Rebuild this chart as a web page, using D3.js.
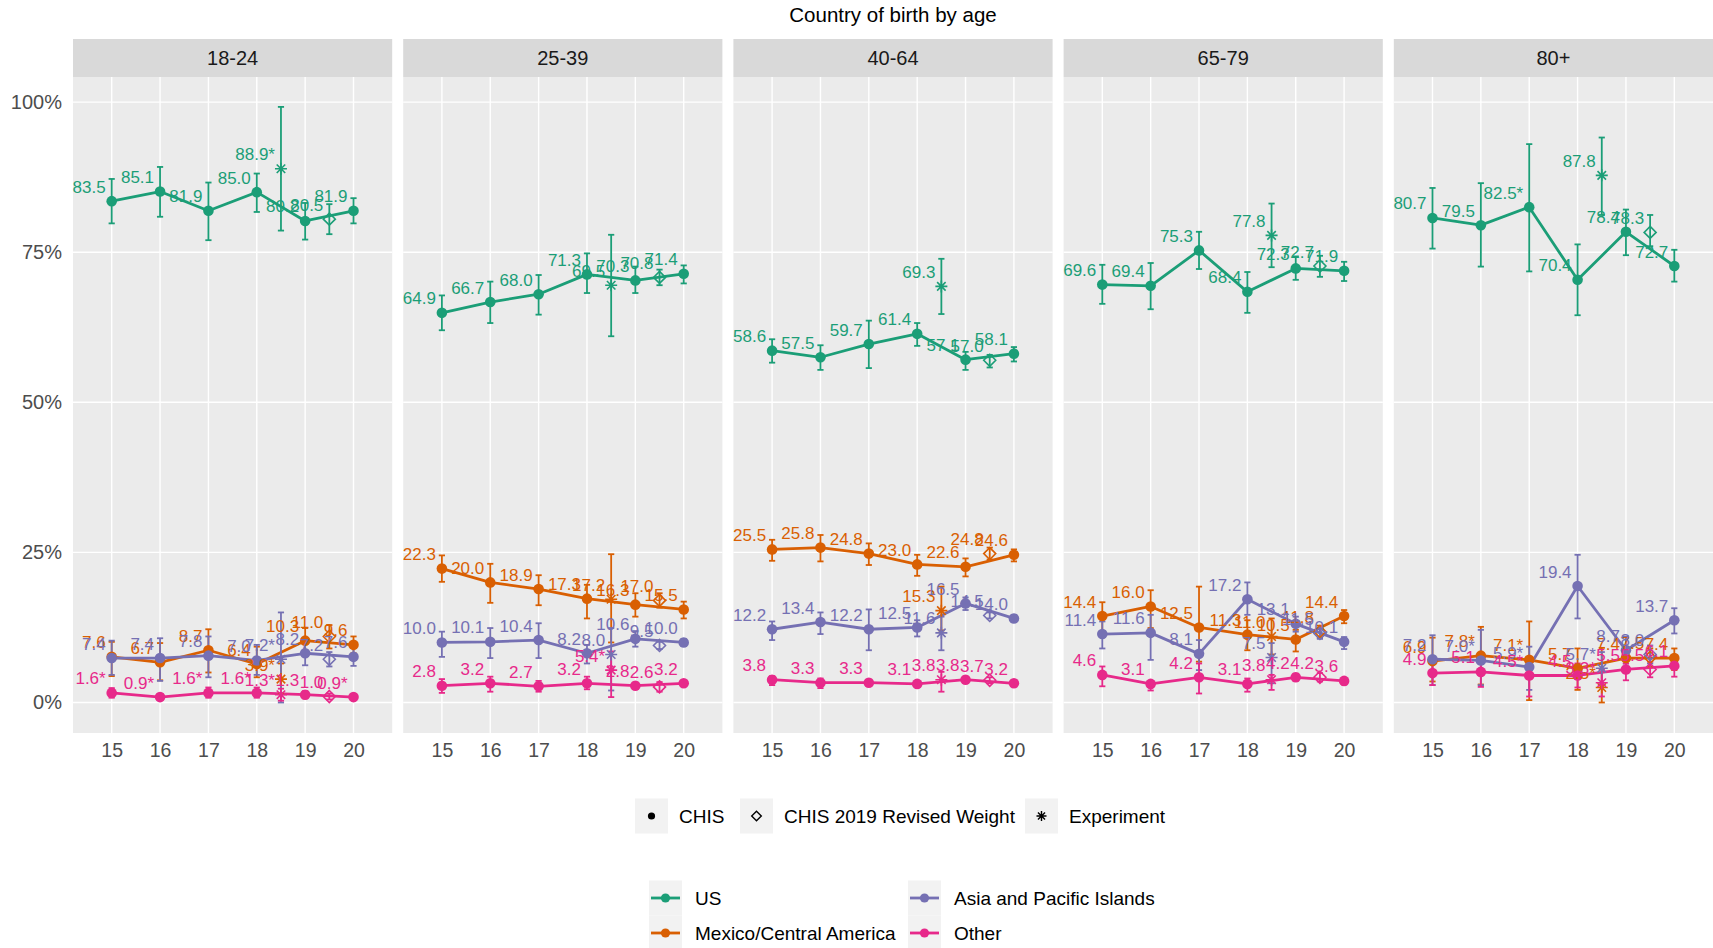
<!DOCTYPE html>
<html><head><meta charset="utf-8">
<script src="https://cdn.jsdelivr.net/npm/d3@7"></script>
<style>
body{margin:0;background:#fff;}
text{font-family:"Liberation Sans", Arial, Helvetica, sans-serif;}
</style>
</head><body>
<svg id="c" width="1713" height="948"></svg>
<script>
// ---------------- DATA ----------------
const title = "Country of birth by age";
const ages = ["18-24", "25-39", "40-64", "65-79", "80+"];
const regions = ["US", "Mexico/Central America", "Asia and Pacific Islands", "Other"];
const regionKeys = ["US", "Mexico", "Asia", "Other"];
const years = [15, 16, 17, 18, 19, 20];
const expYear = 18.5;   // Experiment
const revYear = 19.5;   // CHIS 2019 Revised Weight
const yTicks = [0, 25, 50, 75, 100];
const shapeLabels = ["CHIS", "CHIS 2019 Revised Weight", "Experiment"];

// rows = age groups, columns = years 15..20
const usChis = [
  [83.5, 85.1, 81.9, 85.0, 80.2, 81.9],
  [64.9, 66.7, 68.0, 71.3, 70.3, 71.4],
  [58.6, 57.5, 59.7, 61.4, 57.1, 58.1],
  [69.6, 69.4, 75.3, 68.4, 72.3, 71.9],
  [80.7, 79.5, 82.5, 70.4, 78.4, 72.7]
];
const usLo = [
  [79.8, 80.9, 77.0, 81.7, 77.1, 79.8],
  [62.0, 63.2, 64.6, 68.2, 68.2, 69.8],
  [56.6, 55.4, 55.7, 59.4, 55.4, 56.8],
  [66.4, 65.5, 72.2, 64.9, 70.4, 70.2],
  [75.6, 72.6, 71.8, 64.5, 74.5, 70.1]
];
const usHi = [
  [87.2, 89.2, 86.6, 88.1, 83.2, 84.0],
  [67.8, 70.1, 71.2, 74.8, 72.6, 72.8],
  [60.5, 59.5, 63.6, 63.2, 58.4, 59.2],
  [72.9, 73.2, 78.4, 71.7, 74.3, 73.4],
  [85.7, 86.5, 93.0, 76.3, 82.1, 75.4]
];
const usExp = [88.9, 69.5, 69.3, 77.8, 87.8];
const usExpLo = [78.6, 61.0, 64.7, 72.5, 81.2];
const usExpHi = [99.2, 77.9, 73.9, 83.1, 94.1];
const usRev = [80.5, 70.8, 57.0, 72.7, 78.3];
const usRevLo = [78.0, 69.5, 55.8, 70.9, 76.0];
const usRevHi = [83.0, 72.1, 57.9, 74.4, 81.2];

const mxChis = [
  [7.6, 6.7, 8.7, 6.4, 10.3, 9.6],
  [22.3, 20.0, 18.9, 17.3, 16.3, 15.5],
  [25.5, 25.8, 24.8, 23.0, 22.6, 24.6],
  [14.4, 16.0, 12.5, 11.3, 10.5, 14.4],
  [6.9, 7.8, 7.1, 5.7, 7.4, 7.4]
];
const mxLo = [
  [4.4, 3.7, 5.0, 4.2, 8.2, 8.2],
  [20.1, 16.6, 16.2, 14.0, 14.3, 14.0],
  [23.6, 23.5, 22.9, 21.1, 21.0, 23.5],
  [11.8, 12.4, 6.8, 8.7, 8.5, 13.2],
  [3.5, 3.0, 0.4, 2.1, 5.5, 5.4]
];
const mxHi = [
  [10.1, 9.9, 12.2, 9.3, 12.4, 11.0],
  [24.5, 23.1, 21.2, 19.6, 18.2, 16.8],
  [27.1, 27.9, 26.5, 24.6, 24.0, 25.5],
  [16.7, 18.7, 19.3, 13.7, 12.1, 15.4],
  [10.8, 12.6, 13.5, 9.0, 9.3, 9.0]
];
const mxExp = [3.9, 17.2, 15.3, 11.0, 2.5];
const mxExpLo = [1.5, 10.0, 12.0, 8.0, 0.0];
const mxExpHi = [6.5, 24.7, 19.3, 14.0, 9.1];
const mxRev = [11.0, 17.0, 24.8, 11.8, 7.5];
const mxRevLo = [9.0, 15.8, 23.8, 10.8, 6.0];
const mxRevHi = [12.9, 18.2, 25.8, 12.8, 9.0];

const asChis = [
  [7.4, 7.4, 7.8, 7.0, 8.2, 7.6],
  [10.0, 10.1, 10.4, 8.2, 10.6, 10.0],
  [12.2, 13.4, 12.2, 12.5, 16.5, 14.0],
  [11.4, 11.6, 8.1, 17.2, 13.1, 10.1],
  [7.2, 7.0, 5.9, 19.4, 8.7, 13.7]
];
const asLo = [
  [4.6, 3.6, 4.2, 4.6, 6.2, 6.1],
  [7.6, 7.4, 7.4, 6.5, 9.3, 9.4],
  [10.4, 11.4, 8.7, 11.0, 15.4, 13.4],
  [9.0, 7.1, 5.4, 14.6, 11.8, 8.9],
  [2.9, 2.9, 2.1, 14.0, 6.5, 11.5]
];
const asHi = [
  [10.3, 10.7, 11.0, 9.6, 10.3, 9.1],
  [11.8, 12.4, 13.2, 9.6, 11.9, 10.6],
  [13.5, 15.0, 15.5, 13.7, 17.5, 14.6],
  [13.5, 14.6, 10.4, 20.0, 14.3, 10.9],
  [11.2, 12.1, 9.3, 24.6, 11.0, 15.7]
];
const asExp = [7.2, 8.0, 11.6, 7.5, 5.7];
const asExpLo = [0.0, 2.0, 8.7, 3.2, 3.0];
const asExpHi = [15.0, 12.4, 14.3, 9.9, 8.4];
const asRev = [7.2, 9.5, 14.5, 11.5, 8.0];
const asRevLo = [6.0, 8.9, 14.0, 10.6, 6.5];
const asRevHi = [8.4, 10.1, 15.0, 12.4, 9.5];

const otChis = [
  [1.6, 0.9, 1.6, 1.6, 1.3, 0.9],
  [2.8, 3.2, 2.7, 3.2, 2.8, 3.2],
  [3.8, 3.3, 3.3, 3.1, 3.8, 3.2],
  [4.6, 3.1, 4.2, 3.1, 4.2, 3.6],
  [4.9, 5.1, 4.5, 4.5, 5.5, 6.1]
];
const otLo = [
  [0.8, 0.4, 0.8, 0.8, 0.7, 0.5],
  [1.6, 1.8, 1.8, 2.2, 2.3, 2.8],
  [2.9, 2.4, 2.8, 2.6, 3.3, 2.7],
  [2.7, 2.0, 1.5, 1.8, 3.6, 3.0],
  [2.9, 2.6, 1.0, 2.5, 3.7, 4.3]
];
const otHi = [
  [2.4, 1.4, 2.5, 2.5, 1.9, 1.3],
  [3.9, 4.3, 3.6, 4.3, 3.3, 3.6],
  [4.4, 4.0, 3.8, 3.5, 4.3, 3.6],
  [6.0, 3.5, 6.5, 4.0, 4.8, 4.1],
  [7.1, 7.6, 6.8, 6.5, 6.5, 6.8]
];
const otExp = [1.3, 5.4, 3.8, 3.8, 3.3];
const otExpLo = [0.3, 0.9, 1.8, 2.1, 1.0];
const otExpHi = [2.3, 8.5, 5.1, 4.6, 5.5];
const otRev = [1.0, 2.6, 3.7, 4.2, 5.5];
const otRevLo = [0.5, 1.8, 3.2, 3.5, 4.2];
const otRevHi = [1.5, 3.4, 4.2, 4.9, 6.8];

// estimates flagged with "*" (age|region|year)
const unstable = [
  "18-24|US|18.5", "18-24|Mexico|18.5", "18-24|Asia|18.5",
  "18-24|Other|15", "18-24|Other|16", "18-24|Other|17", "18-24|Other|18",
  "18-24|Other|18.5", "18-24|Other|20",
  "25-39|Other|18.5",
  "80+|US|17", "80+|Mexico|16", "80+|Mexico|17", "80+|Mexico|18.5",
  "80+|Asia|16", "80+|Asia|17", "80+|Asia|18.5",
  "80+|Other|17", "80+|Other|18.5"
];

const colors = ["#1B9E77", "#D95F02", "#7570B3", "#E7298A"];

// ---------------- BUILD RECORDS ----------------
const series = [
  {chis: usChis, lo: usLo, hi: usHi, e: usExp, eLo: usExpLo, eHi: usExpHi, r: usRev, rLo: usRevLo, rHi: usRevHi},
  {chis: mxChis, lo: mxLo, hi: mxHi, e: mxExp, eLo: mxExpLo, eHi: mxExpHi, r: mxRev, rLo: mxRevLo, rHi: mxRevHi},
  {chis: asChis, lo: asLo, hi: asHi, e: asExp, eLo: asExpLo, eHi: asExpHi, r: asRev, rLo: asRevLo, rHi: asRevHi},
  {chis: otChis, lo: otLo, hi: otHi, e: otExp, eLo: otExpLo, eHi: otExpHi, r: otRev, rLo: otRevLo, rHi: otRevHi}
];

function records(ai) {
  const out = [];
  series.forEach((s, ri) => {
    years.forEach((yr, yi) => out.push({ri, type: "CHIS", x: yr, v: s.chis[ai][yi], lo: s.lo[ai][yi], hi: s.hi[ai][yi]}));
    out.push({ri, type: "Exp", x: expYear, v: s.e[ai], lo: s.eLo[ai], hi: s.eHi[ai]});
    out.push({ri, type: "Rev", x: revYear, v: s.r[ai], lo: s.rLo[ai], hi: s.rHi[ai]});
  });
  out.forEach(d => {
    d.star = unstable.includes(ages[ai] + "|" + regionKeys[d.ri] + "|" + d.x);
    d.label = d.v.toFixed(1) + (d.star ? "*" : "");
  });
  return out;
}

// ---------------- DRAW ----------------
const W = 1713, H = 948;
const FONT = '"Liberation Sans", Arial, sans-serif';
const svg = d3.select("#c");
svg.append("rect").attr("width", W).attr("height", H).attr("fill", "#fff");

const plotTop = 77, plotBottom = 733, stripTop = 39;
const panelX = d3.scaleBand().domain(ages).range([73, 1713]).paddingInner(11 / 330.2);
const bw = panelX.bandwidth();
const y = d3.scaleLinear().domain([-5.08, 104.18]).range([plotBottom, plotTop]);
const x = d3.scaleLinear().domain([14.2, 20.8]).range([0, bw]);

svg.append("text").attr("x", (73 + 1713) / 2).attr("y", 22).attr("text-anchor", "middle")
  .attr("font-size", 20.5).attr("fill", "#000").text(title);

function asteriskPath(r) {
  const d = r * 0.7071;
  return `M${-r},0L${r},0M0,${-r}L0,${r}M${-d},${-d}L${d},${d}M${-d},${d}L${d},${-d}`;
}
function diamondPath(r) {
  return `M0,${-r}L${r},0L0,${r}L${-r},0Z`;
}

ages.forEach((age, ai) => {
  const g = svg.append("g").attr("transform", `translate(${panelX(age)},0)`);
  const data = records(ai);

  g.append("rect").attr("x", 0).attr("y", plotTop).attr("width", bw).attr("height", plotBottom - plotTop).attr("fill", "#EBEBEB");
  g.selectAll("line.gy").data(yTicks).join("line").attr("class", "gy")
    .attr("x1", 0).attr("x2", bw).attr("y1", d => y(d)).attr("y2", d => y(d))
    .attr("stroke", "#fff").attr("stroke-width", 1.4);
  g.selectAll("line.gx").data(years).join("line").attr("class", "gx")
    .attr("x1", d => x(d)).attr("x2", d => x(d)).attr("y1", plotTop).attr("y2", plotBottom)
    .attr("stroke", "#fff").attr("stroke-width", 1.4);

  // strip
  g.append("rect").attr("x", 0).attr("y", stripTop).attr("width", bw).attr("height", plotTop - stripTop).attr("fill", "#D9D9D9");
  g.append("text").attr("x", bw / 2).attr("y", (stripTop + plotTop) / 2).attr("dy", "0.36em")
    .attr("text-anchor", "middle").attr("font-size", 20).attr("fill", "#1A1A1A").text(age);

  // x axis
  const xa = g.append("g").attr("transform", `translate(0,${plotBottom})`)
    .call(d3.axisBottom(x).tickValues(years).tickSize(0).tickPadding(10).tickFormat(d3.format("d")));
  xa.select(".domain").remove();
  xa.selectAll("text").attr("font-size", 19.5).attr("fill", "#4D4D4D").attr("font-family", FONT);

  if (ai === 0) {
    const ya = g.append("g").call(d3.axisLeft(y).tickValues(yTicks).tickSize(0).tickPadding(11).tickFormat(d => d + "%"));
    ya.select(".domain").remove();
    ya.selectAll("text").attr("font-size", 20).attr("fill", "#4D4D4D").attr("font-family", FONT);
  }

  // lines
  const line = d3.line().x(d => x(d.x)).y(d => y(d.v));
  regions.forEach((rg, ri) => {
    g.append("path").datum(data.filter(d => d.ri === ri && d.type === "CHIS"))
      .attr("d", line).attr("fill", "none").attr("stroke", colors[ri]).attr("stroke-width", 2.8)
      .attr("stroke-linejoin", "round");
  });

  // error bars
  const cap = 0.064;
  const eb = g.selectAll("g.eb").data(data).join("g").attr("class", "eb")
    .attr("stroke", d => colors[d.ri]).attr("stroke-width", 1.8).attr("fill", "none");
  eb.append("line").attr("x1", d => x(d.x)).attr("x2", d => x(d.x)).attr("y1", d => y(d.lo)).attr("y2", d => y(d.hi));
  eb.append("line").attr("x1", d => x(d.x - cap)).attr("x2", d => x(d.x + cap)).attr("y1", d => y(d.lo)).attr("y2", d => y(d.lo));
  eb.append("line").attr("x1", d => x(d.x - cap)).attr("x2", d => x(d.x + cap)).attr("y1", d => y(d.hi)).attr("y2", d => y(d.hi));

  // points
  g.selectAll("circle.pt").data(data.filter(d => d.type === "CHIS")).join("circle").attr("class", "pt")
    .attr("cx", d => x(d.x)).attr("cy", d => y(d.v)).attr("r", 5.3).attr("fill", d => colors[d.ri]);
  g.selectAll("path.rev").data(data.filter(d => d.type === "Rev")).join("path").attr("class", "rev")
    .attr("transform", d => `translate(${x(d.x)},${y(d.v)})`).attr("d", diamondPath(6))
    .attr("fill", "none").attr("stroke", d => colors[d.ri]).attr("stroke-width", 1.6);
  g.selectAll("path.exp").data(data.filter(d => d.type === "Exp")).join("path").attr("class", "exp")
    .attr("transform", d => `translate(${x(d.x)},${y(d.v)})`).attr("d", asteriskPath(6))
    .attr("fill", "none").attr("stroke", d => colors[d.ri]).attr("stroke-width", 1.6);

  // labels
  g.selectAll("text.lab").data(data).join("text").attr("class", "lab")
    .attr("x", d => x(d.x) - 6).attr("y", d => y(d.v) - 8.5)
    .attr("text-anchor", "end").attr("font-size", 17).attr("fill", d => colors[d.ri])
    .text(d => d.label);
});

// ---------------- LEGENDS ----------------
const keyW = 33, keyH = 35;
const leg1 = svg.append("g");
const shapeKeyX = [635, 740, 1025];
shapeLabels.forEach((lab, i) => {
  const kx = shapeKeyX[i], ky = 798.5;
  leg1.append("rect").attr("x", kx).attr("y", ky).attr("width", keyW).attr("height", keyH).attr("fill", "#F2F2F2");
  const cx = kx + keyW / 2, cy = ky + keyH / 2;
  if (i === 0) leg1.append("circle").attr("cx", cx).attr("cy", cy).attr("r", 3.6).attr("fill", "#000");
  if (i === 1) leg1.append("path").attr("transform", `translate(${cx},${cy})`).attr("d", diamondPath(4.8)).attr("fill", "none").attr("stroke", "#000").attr("stroke-width", 1.4);
  if (i === 2) leg1.append("path").attr("transform", `translate(${cx},${cy})`).attr("d", asteriskPath(5)).attr("fill", "none").attr("stroke", "#000").attr("stroke-width", 1.4);
  leg1.append("text").attr("x", kx + keyW + 11).attr("y", cy).attr("dy", "0.36em")
    .attr("font-size", 19).attr("fill", "#000").text(lab);
});

const leg2 = svg.append("g");
const colKeyX = [649, 908], rowKeyY = [880.5, 915.5];
regions.forEach((rg, ri) => {
  const col = ri < 2 ? 0 : 1, row = ri % 2;
  const kx = colKeyX[col], ky = rowKeyY[row];
  leg2.append("rect").attr("x", kx).attr("y", ky).attr("width", keyW).attr("height", keyH).attr("fill", "#F2F2F2");
  const cy = ky + keyH / 2;
  leg2.append("line").attr("x1", kx + 2).attr("x2", kx + keyW - 2).attr("y1", cy).attr("y2", cy)
    .attr("stroke", colors[ri]).attr("stroke-width", 2.8);
  leg2.append("circle").attr("cx", kx + keyW / 2).attr("cy", cy).attr("r", 4.6).attr("fill", colors[ri]);
  leg2.append("text").attr("x", kx + keyW + 13).attr("y", cy).attr("dy", "0.36em")
    .attr("font-size", 19).attr("fill", "#000").text(rg);
});
</script>
</body></html>
